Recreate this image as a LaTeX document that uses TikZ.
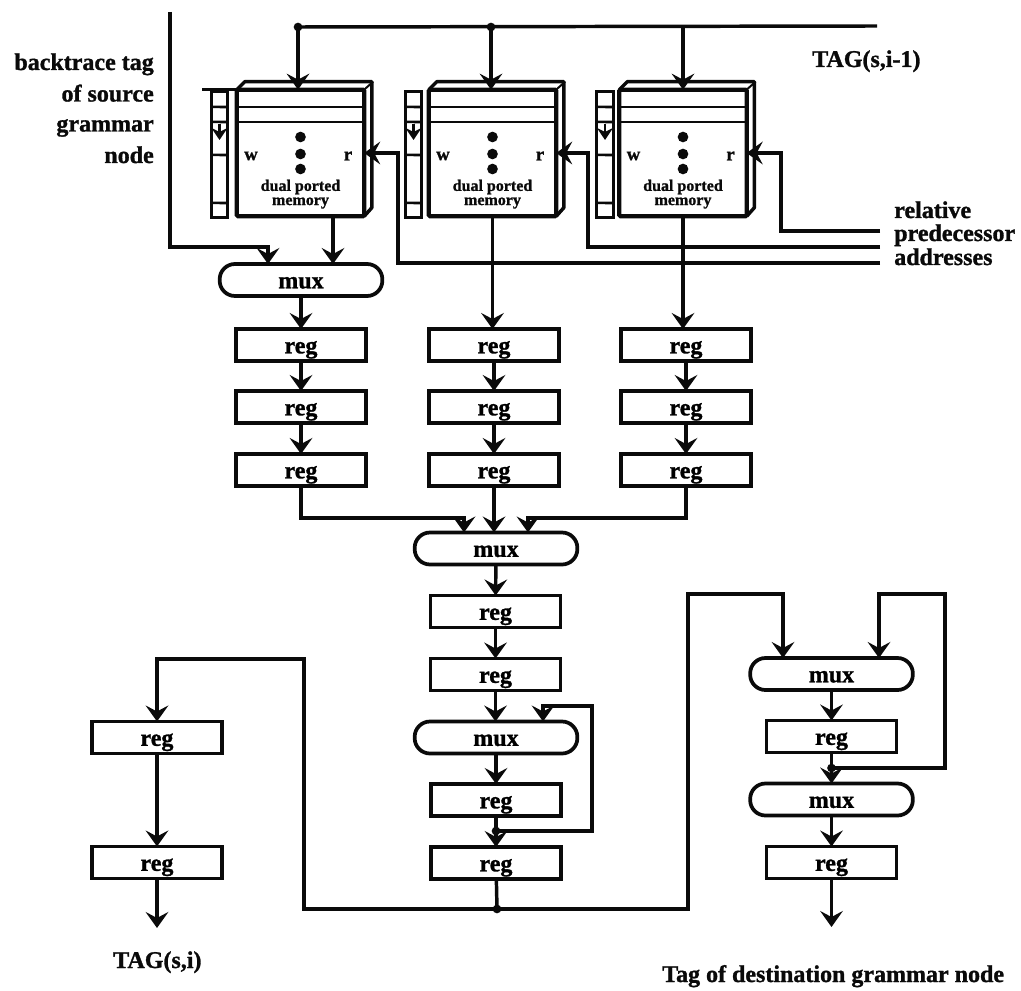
\documentclass[tikz,border=0pt]{standalone}
\usepackage{fontspec}
\usepackage{tikz}
\usetikzlibrary{arrows.meta}
\setmainfont{Liberation Serif}[BoldFeatures={FakeBold=1.2}]
\definecolor{inkblack}{RGB}{10, 10, 10}
\tikzset{
	wire/.style={inkblack, line width=2.6pt, line join=miter},
	flow/.style={wire, -{Stealth[length=12pt, width=17pt, inset=4.5pt]}},
	regbox/.style={draw=inkblack, line width=2.8pt, minimum width=97.5pt, minimum height=24pt, inner sep=0pt, outer sep=0pt, text height=12.5pt, text depth=0pt, font=\bfseries\fontsize{18}{18}\selectfont},
	muxbox/.style={regbox, minimum width=122pt, rounded corners=11.5pt},
	membox/.style={draw=inkblack, line width=3.2pt, minimum width=95.5pt, minimum height=95pt, inner sep=0pt, outer sep=0pt, rounded corners=1pt},
	stackbox/.style={draw=inkblack, line width=2.2pt, minimum width=12.5pt, minimum height=94pt, inner sep=0pt, outer sep=0pt},
	junction/.style={circle, fill=inkblack, minimum size=6.5pt, inner sep=0pt},
	bigdot/.style={circle, fill=inkblack, minimum size=8pt, inner sep=0pt},
	caption/.style={text=inkblack, inner sep=0pt, font=\bfseries\fontsize{18}{18}\selectfont},
	smalltext/.style={text=inkblack, inner sep=0pt, font=\bfseries\fontsize{12}{12}\selectfont},
}
\begin{document}
\begin{tikzpicture}[x=0.75pt, y=-0.75pt]
	\useasboundingbox (0,0) rectangle (1021,991);
	% input bus and address lines
	\node[junction] (tap1) at (298,27) {};
	\node[junction] (tap2) at (491,27) {};
	\coordinate (tap3) at (683,27);
	\coordinate (busend) at (877,26);
	\draw[wire] (tap1.center) -- (busend);
	\coordinate (addr1) at (880,263);
	\coordinate (addr2) at (880,247);
	\coordinate (addr3) at (880,231);
	\coordinate (turn1) at (398,153);
	\coordinate (turn2) at (588,153);
	\coordinate (turn3) at (781,153);
	% memories with their side stacks
	\foreach \c/\x/\s in {1/300.5/219.5, 2/492.5/413.5, 3/683/605} {
		\node[membox] (mem\c) at (\x,153) {};
		\node[stackbox] (stack\c) at (\s,154.5) {};
		\foreach \dy in {15,30,63,111} {
			\draw[inkblack, line width=2pt] (stack\c.north west) ++(0,\dy) -- (stack\c.north east |- 0,92+\dy);
		}
		\draw[inkblack, -{Stealth[length=9pt, width=12pt, inset=3pt]}, line width=2pt] (\s,124) -- (\s,140);
		\draw[inkblack, line width=2.2pt] (mem\c.west |- 0,107) -- (mem\c.east |- 0,107);
		\draw[inkblack, line width=2.2pt] (mem\c.west |- 0,122) -- (mem\c.east |- 0,122);
		\draw[inkblack, line width=2.6pt, line join=round] (mem\c.north west) -- ++(8,-8) -- ++(127,0) -- ++(0,126) -- (mem\c.south east);
		\draw[inkblack, line width=1.5pt] (mem\c.north east) -- ++(9,-8);
		\node[bigdot] (dotA\c) at (\x,137) {};
		\node[bigdot] (dotB\c) at (\x,154) {};
		\node[bigdot] (dotC\c) at (\x,169) {};
		\node[smalltext, font=\bfseries\fontsize{14}{14}\selectfont] (write\c) at (\x-49.5,156) {w};
		\node[smalltext, font=\bfseries\fontsize{14}{14}\selectfont] (read\c) at (\x+47.5,156) {r};
		\node[smalltext] (dual\c) at (\x,187) {dual ported};
		\node[smalltext] (word\c) at (\x,203) {memory};
		\draw[flow] (tap\c.center) -- (tap\c |- mem\c.north);
		\draw[flow] (addr\c) -| (turn\c) -- (mem\c.east);
	}
	\draw[wire] (mem1.north west) -- ++(-35,0);
	% first mux and register columns
	\node[muxbox] (muxA) at (301,280) {mux};
	\foreach \c/\x in {1/301, 2/494, 3/686} {
		\node[regbox] (reg\c1) at (\x,345) {reg};
		\node[regbox] (reg\c2) at (\x,407) {reg};
		\node[regbox] (reg\c3) at (\x,470) {reg};
		\draw[flow] (reg\c1) -- (reg\c2);
		\draw[flow] (reg\c2) -- (reg\c3);
	}
	\coordinate (backtop) at (170,12);
	\coordinate (backturn) at (268,247);
	\coordinate (memout) at (333,217);
	\draw[flow] (backtop) |- (backturn) -- (backturn |- muxA.north);
	\draw[flow] (memout) -- (memout |- muxA.north);
	\draw[flow] (muxA) -- (reg11);
	\draw[flow] (mem2.south) -- (mem2.south |- reg21.north);
	\draw[flow] (mem3.south) -- (mem3.south |- reg31.north);
	% centre column
	\node[muxbox] (muxB) at (496,548.5) {mux};
	\node[regbox] (regC1) at (495.5,611.5) {reg};
	\node[regbox] (regC2) at (495.5,674.5) {reg};
	\node[muxbox] (muxC) at (496,737.5) {mux};
	\node[regbox] (regC3) at (496,800) {reg};
	\node[regbox] (regC4) at (496,863) {reg};
	\coordinate (mergeL) at (464,518);
	\coordinate (mergeR) at (528,518);
	\draw[flow] (reg13) |- (mergeL) -- (mergeL |- muxB.north);
	\draw[flow] (reg23) -- (reg23 |- muxB.north);
	\draw[flow] (reg33) |- (mergeR) -- (mergeR |- muxB.north);
	\draw[flow] (muxB) -- (regC1);
	\draw[flow] (regC2) -- (regC2 |- muxC.north);
	\draw[flow] (muxC) -- (regC3);
	\draw[flow] (regC3) -- (regC4);
	\draw[flow] (regC1) -- (regC2);
	\node[junction] (loopC) at (496,831) {};
	\coordinate (loopCa) at (592,831);
	\coordinate (loopCb) at (543,706);
	\draw[flow] (loopC.center) -- (loopCa) |- (loopCb) -- (loopCb |- muxC.north);
	% left column
	\node[regbox] (regL1) at (157,737.5) {reg};
	\node[regbox] (regL2) at (157,862.5) {reg};
	\coordinate (outL) at (157,928);
	\draw[flow] (regL1) -- (regL2);
	\draw[flow] (regL2) -- (outL);
	% right column
	\node[muxbox] (muxR1) at (831.5,674) {mux};
	\node[regbox] (regR1) at (831.5,736.5) {reg};
	\node[muxbox] (muxR2) at (831.5,799.5) {mux};
	\node[regbox] (regR2) at (831.5,862.5) {reg};
	\coordinate (outR) at (831.5,927);
	\draw[flow] (muxR1) -- (regR1);
	\draw[flow] (regR1) -- (muxR2);
	\draw[flow] (muxR2) -- (regR2);
	\draw[flow] (regR2) -- (outR);
	\node[junction] (loopR) at (831.5,768) {};
	\coordinate (loopRa) at (945,768);
	\coordinate (loopRb) at (879,594);
	\draw[flow] (loopR.center) -- (loopRa) |- (loopRb) -- (loopRb |- muxR1.north);
	% output bus
	\node[junction] (outC) at (497,909) {};
	\coordinate (busL) at (304,909);
	\coordinate (busR) at (688,909);
	\coordinate (leftTop) at (157,659);
	\coordinate (rightTop) at (783,594);
	\draw[wire] (regC4) -- (outC.center);
	\draw[flow] (busL -| outC) -- (busL) |- (leftTop) -- (regL1);
	\draw[flow] (busL -| outC) -- (busR) |- (rightTop) -- (rightTop |- muxR1.north);
	% labels
	\node[caption, anchor=base east] (btA) at (154,70) {backtrace tag};
	\node[caption, anchor=base east] (btB) at (154,101.5) {of source};
	\node[caption, anchor=base east] (btC) at (154,131.5) {grammar};
	\node[caption, anchor=base east] (btD) at (154,163) {node};
	\node[caption, anchor=base west] (tagprev) at (812,67) {TAG(s,i-1)};
	\node[caption, anchor=base west] (relA) at (894,218) {relative};
	\node[caption, anchor=base west] (relB) at (894,241) {predecessor};
	\node[caption, anchor=base west] (relC) at (894,265) {addresses};
	\node[caption, anchor=base west] (tagcur) at (113,968) {TAG(s,i)};
	\node[caption, anchor=base west] (tagdest) at (662,982) {Tag of destination grammar node};
\end{tikzpicture}
\end{document}
